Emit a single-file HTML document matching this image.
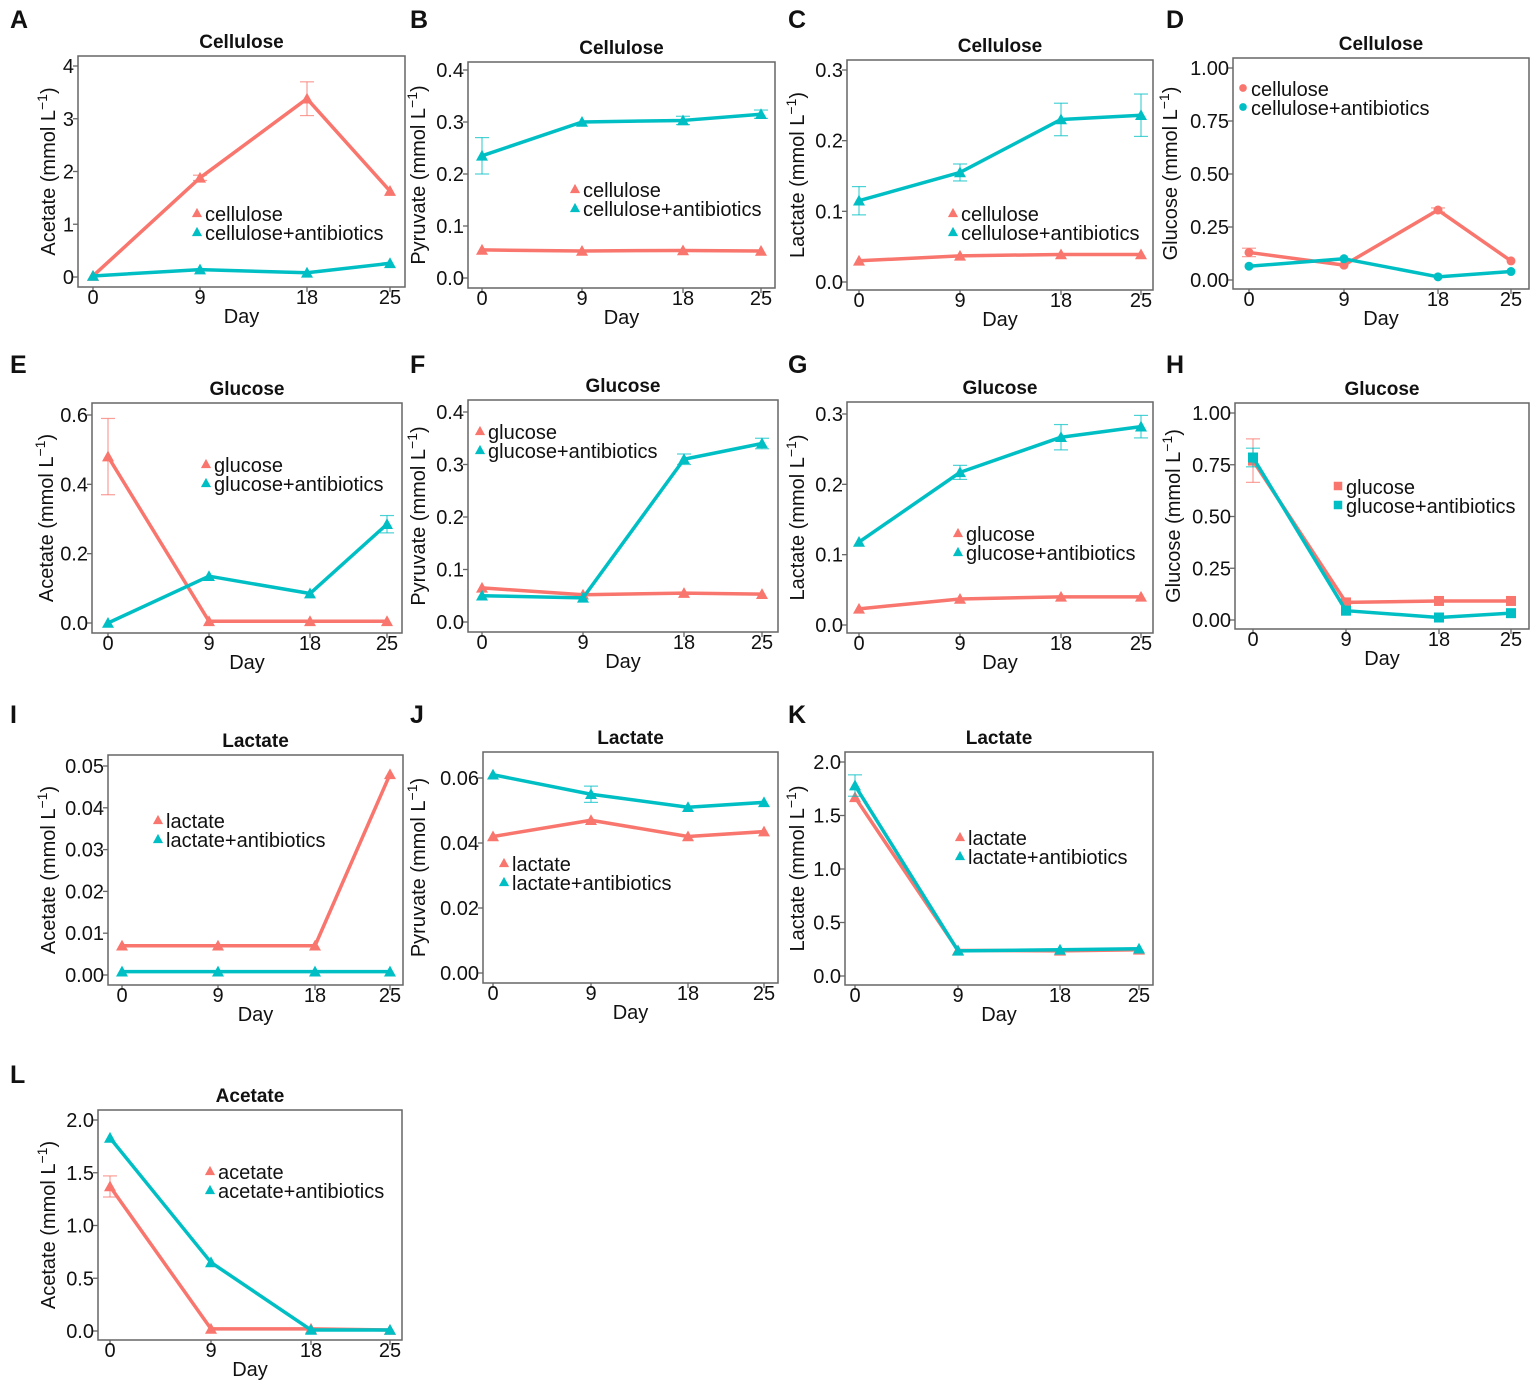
<!DOCTYPE html>
<html><head><meta charset="utf-8"><style>
body{margin:0;background:#fff}
svg{display:block;font-family:"Liberation Sans",Arial,sans-serif}
</style></head><body>
<svg id="s" width="1535" height="1386" xmlns="http://www.w3.org/2000/svg"></svg>
<script>
const R="#F8766D",T="#00BFC4",NS="http://www.w3.org/2000/svg";
const s=document.getElementById('s');
function el(t,a,txt){const e=document.createElementNS(NS,t);for(const k in a)e.setAttribute(k,a[k]);if(txt!==undefined)e.textContent=txt;s.appendChild(e);return e;}
function marker(sh,x,y,c,sz){sz=sz||1;
 if(sh==='t'){const h=6*sz;el('polygon',{points:`${x},${y-h} ${x-h},${y+h*0.8} ${x+h},${y+h*0.8}`,fill:c});}
 else if(sh==='c'){el('circle',{cx:x,cy:y,r:4.5*sz,fill:c});}
 else{el('rect',{x:x-5*sz,y:y-5*sz,width:10*sz,height:10*sz,fill:c});}
}
function panel(p){
 const [x0,x1,y0,y1]=p.box;
 const [va,pa]=p.ya,[vb,pb]=p.yb;
 const Y=v=>pa+(v-va)*(pb-pa)/(vb-va);
 el('rect',{x:x0,y:y0,width:x1-x0,height:y1-y0,fill:'none',stroke:'#666','stroke-width':1.5});
 p.yt.forEach(([v,l])=>{const y=Y(v);el('line',{x1:x0-5,y1:y,x2:x0,y2:y,stroke:'#666','stroke-width':1.3});
  el('text',{x:x0-4,y:y+7,'font-size':20,'text-anchor':'end',fill:'#111'},l);});
 const xl=['0','9','18','25'];
 p.xs.forEach((x,i)=>{el('line',{x1:x,y1:y1,x2:x,y2:y1+5,stroke:'#666','stroke-width':1.3});
  el('text',{x:x,y:y1+17,'font-size':20,'text-anchor':'middle',fill:'#111'},xl[i]);});
 el('text',{x:(x0+x1)/2,y:y1+36,'font-size':20,'text-anchor':'middle',fill:'#111'},'Day');
 el('text',{x:(x0+x1)/2,y:y0-8,'font-size':19,'font-weight':'bold','text-anchor':'middle',fill:'#111'},p.title);
 const cy=(y0+y1)/2;
 const t=el('text',{x:0,y:0,'font-size':20,'text-anchor':'middle',fill:'#111',transform:`translate(${p.ylx},${cy}) rotate(-90)`});
 t.textContent=p.yl+' (mmol L';const ts=document.createElementNS(NS,'tspan');ts.setAttribute('dy','-8');ts.setAttribute('font-size','14');ts.textContent='−1';t.appendChild(ts);
 const ts2=document.createElementNS(NS,'tspan');ts2.setAttribute('dy','8');ts2.textContent=')';t.appendChild(ts2);
 el('text',{x:p.lt[0],y:p.lt[1],'font-size':25,'font-weight':'bold',fill:'#111'},p.letter);
 [[p.r,R,p.re],[p.t,T,p.te]].forEach(([d,c,e])=>{
  const pts=d.map((v,i)=>[p.xs[i],Y(v)]);
  if(e)e.forEach((er,i)=>{if(!er)return;const x=p.xs[i];const a=Y(d[i]-er),b=Y(d[i]+er);
   el('line',{x1:x,y1:a,x2:x,y2:b,stroke:c,'stroke-width':1.2,opacity:.7});
   el('line',{x1:x-7,y1:a,x2:x+7,y2:a,stroke:c,'stroke-width':1.2,opacity:.7});
   el('line',{x1:x-7,y1:b,x2:x+7,y2:b,stroke:c,'stroke-width':1.2,opacity:.7});});
  el('polyline',{points:pts.map(q=>q.join(',')).join(' '),fill:'none',stroke:c,'stroke-width':3.5,'stroke-linejoin':'round'});
  pts.forEach(q=>marker(p.sh,q[0],q[1],c));
 });
 const [lx,ly]=p.leg;
 [[R,p.ln],[T,p.ln+'+antibiotics']].forEach(([c,l],i)=>{const y=ly+i*19;marker(p.sh,lx,y-1,c,0.85);
  el('text',{x:lx+8,y:y+7,'font-size':20,fill:'#111'},l);});
}
const P=[
{letter:'A',lt:[10,28],box:[78,405,56,287],ya:[0,277],yb:[4,66],yt:[[0,'0'],[1,'1'],[2,'2'],[3,'3'],[4,'4']],xs:[93,200,307,390],title:'Cellulose',yl:'Acetate',ylx:55,sh:'t',r:[0.02,1.88,3.38,1.63],re:[0,0.05,0.32,0],t:[0.02,0.14,0.08,0.26],ln:'cellulose',leg:[197,214]},
{letter:'B',lt:[410,28],box:[468,775,62,288],ya:[0,278],yb:[0.4,70],yt:[[0,'0.0'],[0.1,'0.1'],[0.2,'0.2'],[0.3,'0.3'],[0.4,'0.4']],xs:[482,582,683,761],title:'Cellulose',yl:'Pyruvate',ylx:425,sh:'t',r:[0.054,0.052,0.053,0.052],t:[0.235,0.30,0.303,0.315],te:[0.035,0,0.008,0.008],ln:'cellulose',leg:[575,190]},
{letter:'C',lt:[788,28],box:[847,1153,60,290],ya:[0,282],yb:[0.3,70],yt:[[0,'0.0'],[0.1,'0.1'],[0.2,'0.2'],[0.3,'0.3']],xs:[859,960,1061,1141],title:'Cellulose',yl:'Lactate',ylx:804,sh:'t',r:[0.03,0.037,0.039,0.039],t:[0.115,0.155,0.23,0.236],te:[0.02,0.012,0.023,0.03],ln:'cellulose',leg:[953,214]},
{letter:'D',lt:[1166,28],box:[1233,1529,58,289],ya:[0,280],yb:[1,68],yt:[[0,'0.00'],[0.25,'0.25'],[0.5,'0.50'],[0.75,'0.75'],[1,'1.00']],xs:[1249,1344,1438,1511],title:'Cellulose',yl:'Glucose',ylx:1177,sh:'c',r:[0.13,0.07,0.33,0.09],re:[0.02,0,0.01,0],t:[0.065,0.10,0.015,0.04],ln:'cellulose',leg:[1243,89]},
{letter:'E',lt:[10,373],box:[92,402,403,633],ya:[0,623],yb:[0.6,415],yt:[[0,'0.0'],[0.2,'0.2'],[0.4,'0.4'],[0.6,'0.6']],xs:[108,209,310,387],title:'Glucose',yl:'Acetate',ylx:53,sh:'t',r:[0.48,0.005,0.005,0.005],re:[0.11,0,0,0],t:[0,0.135,0.085,0.285],te:[0,0,0,0.025],ln:'glucose',leg:[206,465]},
{letter:'F',lt:[410,373],box:[468,778,400,632],ya:[0,622],yb:[0.4,412],yt:[[0,'0.0'],[0.1,'0.1'],[0.2,'0.2'],[0.3,'0.3'],[0.4,'0.4']],xs:[482,583,684,762],title:'Glucose',yl:'Pyruvate',ylx:425,sh:'t',r:[0.065,0.052,0.055,0.053],t:[0.05,0.046,0.31,0.34],te:[0,0,0.01,0.01],ln:'glucose',leg:[480,432]},
{letter:'G',lt:[788,373],box:[847,1153,402,633],ya:[0,625],yb:[0.3,414],yt:[[0,'0.0'],[0.1,'0.1'],[0.2,'0.2'],[0.3,'0.3']],xs:[859,960,1061,1141],title:'Glucose',yl:'Lactate',ylx:804,sh:'t',r:[0.023,0.037,0.04,0.04],t:[0.118,0.217,0.267,0.282],te:[0,0.01,0.018,0.016],ln:'glucose',leg:[958,534]},
{letter:'H',lt:[1166,373],box:[1235,1529,403,629],ya:[0,620],yb:[1,413],yt:[[0,'0.00'],[0.25,'0.25'],[0.5,'0.50'],[0.75,'0.75'],[1,'1.00']],xs:[1253,1346,1439,1511],title:'Glucose',yl:'Glucose',ylx:1180,sh:'s',r:[0.77,0.085,0.092,0.092],re:[0.105,0,0,0],t:[0.785,0.045,0.012,0.033],te:[0.045,0,0,0],ln:'glucose',leg:[1338,487]},
{letter:'I',lt:[10,723],box:[108,403,755,985],ya:[0,975],yb:[0.05,766],yt:[[0,'0.00'],[0.01,'0.01'],[0.02,'0.02'],[0.03,'0.03'],[0.04,'0.04'],[0.05,'0.05']],xs:[122,218,315,390],title:'Lactate',yl:'Acetate',ylx:55,sh:'t',r:[0.007,0.007,0.007,0.048],t:[0.0008,0.0008,0.0008,0.0008],ln:'lactate',leg:[158,821]},
{letter:'J',lt:[410,723],box:[483,778,752,983],ya:[0,973],yb:[0.06,778],yt:[[0,'0.00'],[0.02,'0.02'],[0.04,'0.04'],[0.06,'0.06']],xs:[493,591,688,764],title:'Lactate',yl:'Pyruvate',ylx:425,sh:'t',r:[0.042,0.047,0.042,0.0435],t:[0.061,0.055,0.051,0.0525],te:[0,0.0025,0,0],ln:'lactate',leg:[504,864]},
{letter:'K',lt:[788,723],box:[845,1153,752,985],ya:[0,976],yb:[2,762],yt:[[0,'0.0'],[0.5,'0.5'],[1,'1.0'],[1.5,'1.5'],[2,'2.0']],xs:[855,958,1060,1139],title:'Lactate',yl:'Lactate',ylx:804,sh:'t',r:[1.67,0.24,0.235,0.245],t:[1.78,0.235,0.245,0.255],te:[0.1,0,0,0],ln:'lactate',leg:[960,838]},
{letter:'L',lt:[10,1083],box:[98,402,1110,1340],ya:[0,1331],yb:[2,1120],yt:[[0,'0.0'],[0.5,'0.5'],[1,'1.0'],[1.5,'1.5'],[2,'2.0']],xs:[110,211,311,390],title:'Acetate',yl:'Acetate',ylx:55,sh:'t',r:[1.37,0.02,0.02,0.01],re:[0.1,0,0,0],t:[1.83,0.65,0.01,0.01],ln:'acetate',leg:[210,1172]}
];
P.forEach(panel);
</script>
</body></html>
